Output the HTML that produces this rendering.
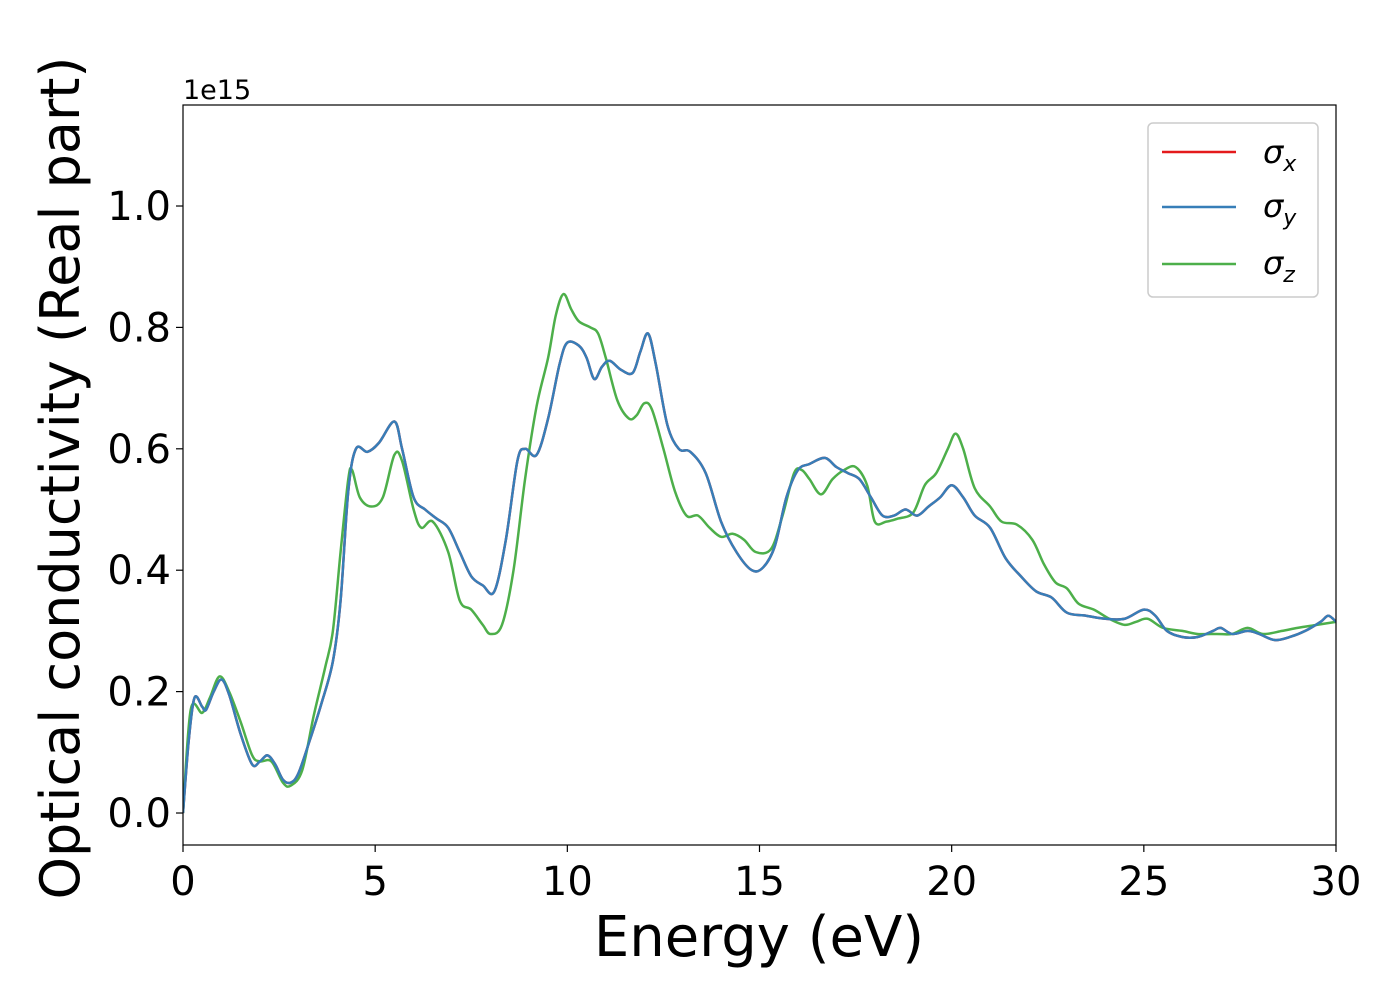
<!DOCTYPE html>
<html><head><meta charset="utf-8"><style>
body{margin:0;background:#fff}
svg text{font-family:"DejaVu Sans","Liberation Sans",sans-serif;fill:#000}
</style></head><body>
<svg width="1400" height="1000" viewBox="0 0 1400 1000" xmlns="http://www.w3.org/2000/svg">
<rect width="1400" height="1000" fill="#fff"/>
<g id="plot"></g>
<g id="axes"></g>
<text x="183" y="99" font-size="27">1e15</text>
<text x="759" y="956" font-size="56" text-anchor="middle">Energy (eV)</text>
<text transform="translate(79,478) rotate(-90)" font-size="54" text-anchor="middle">Optical conductivity (Real part)</text>
<g>
<rect x="1148" y="123" width="170" height="174" rx="5" fill="#fff" stroke="#ccc" stroke-width="1.5"/>
<line x1="1162" y1="152" x2="1236" y2="152" stroke="#e41a1c" stroke-width="2.5"/>
<text x="1263" y="163" font-size="32" font-style="italic">σ<tspan font-size="22" dy="8">x</tspan></text>
<line x1="1162" y1="207" x2="1236" y2="207" stroke="#377eb8" stroke-width="2.5"/>
<text x="1263" y="217" font-size="32" font-style="italic">σ<tspan font-size="22" dy="8">y</tspan></text>
<line x1="1162" y1="264" x2="1236" y2="264" stroke="#4daf4a" stroke-width="2.5"/>
<text x="1263" y="274" font-size="32" font-style="italic">σ<tspan font-size="22" dy="8">z</tspan></text>
</g>
</svg>
<script>
const energyXY=[0,0.15,0.3,0.5,0.6,0.8,1.0,1.2,1.5,1.8,2.0,2.2,2.4,2.6,2.8,3.0,3.3,3.6,3.9,4.1,4.3,4.5,4.8,5.1,5.5,5.7,6.0,6.3,6.6,6.9,7.2,7.5,7.8,8.1,8.4,8.7,8.9,9.2,9.5,9.8,10.0,10.3,10.5,10.7,10.9,11.1,11.4,11.7,11.9,12.1,12.3,12.6,12.9,13.2,13.6,14.0,14.4,14.8,15.1,15.4,15.7,16.0,16.3,16.7,17.0,17.3,17.6,17.9,18.2,18.5,18.8,19.1,19.4,19.7,20.0,20.3,20.6,21.0,21.4,21.8,22.2,22.6,23.0,23.5,24.0,24.5,25.0,25.3,25.6,26.0,26.4,26.8,27.0,27.3,27.7,28.0,28.4,28.8,29.2,29.6,29.8,30];
const sigmaX=[0,0.12,0.19,0.175,0.17,0.2,0.22,0.195,0.13,0.08,0.085,0.095,0.08,0.055,0.05,0.065,0.12,0.18,0.25,0.35,0.53,0.6,0.595,0.61,0.645,0.6,0.52,0.5,0.485,0.47,0.43,0.39,0.375,0.365,0.45,0.58,0.6,0.59,0.65,0.74,0.775,0.77,0.75,0.715,0.735,0.745,0.73,0.725,0.76,0.79,0.74,0.64,0.6,0.595,0.56,0.48,0.43,0.4,0.405,0.44,0.52,0.565,0.575,0.585,0.57,0.56,0.55,0.52,0.49,0.49,0.5,0.49,0.505,0.52,0.54,0.52,0.49,0.47,0.42,0.39,0.365,0.355,0.33,0.325,0.32,0.32,0.335,0.325,0.3,0.29,0.29,0.3,0.305,0.295,0.3,0.295,0.285,0.29,0.3,0.315,0.325,0.315];
const sigmaY=sigmaX.slice();
const energyZ=[0,0.2,0.5,0.7,0.95,1.2,1.5,1.8,2.0,2.3,2.6,2.8,3.1,3.4,3.7,3.9,4.1,4.3,4.4,4.6,4.9,5.2,5.5,5.7,6.0,6.2,6.5,6.9,7.2,7.5,7.8,8.0,8.3,8.6,8.9,9.2,9.5,9.7,9.9,10.1,10.3,10.6,10.8,11.0,11.3,11.6,11.8,12.0,12.2,12.5,12.8,13.1,13.4,13.7,14.0,14.3,14.6,14.9,15.3,15.6,15.9,16.1,16.3,16.6,16.9,17.2,17.5,17.8,18.0,18.3,18.6,19.0,19.3,19.6,19.9,20.1,20.3,20.6,21.0,21.3,21.7,22.1,22.4,22.7,23.0,23.3,23.7,24.1,24.5,24.8,25.1,25.5,26.0,26.4,26.9,27.3,27.7,28.1,28.6,29.0,29.5,30];
const sigmaZ=[0,0.17,0.165,0.19,0.225,0.2,0.15,0.095,0.085,0.085,0.05,0.045,0.07,0.16,0.24,0.3,0.43,0.55,0.565,0.52,0.505,0.52,0.59,0.58,0.5,0.47,0.48,0.43,0.35,0.335,0.31,0.295,0.31,0.4,0.55,0.67,0.75,0.82,0.855,0.83,0.81,0.8,0.79,0.75,0.68,0.65,0.655,0.675,0.665,0.6,0.53,0.49,0.49,0.47,0.455,0.46,0.45,0.43,0.435,0.49,0.56,0.565,0.55,0.525,0.55,0.565,0.57,0.54,0.48,0.48,0.485,0.495,0.54,0.56,0.6,0.625,0.6,0.535,0.505,0.48,0.475,0.45,0.41,0.38,0.37,0.345,0.335,0.32,0.31,0.315,0.32,0.305,0.3,0.295,0.295,0.295,0.305,0.295,0.3,0.305,0.31,0.315];
const xTicks=[0,5,10,15,20,25,30];
const yTicks=[0,0.2,0.4,0.6,0.8,1.0];
const yTickLabels=["0.0","0.2","0.4","0.6","0.8","1.0"];

const L=183,R=1336,T=105,B=845,xMin=0,xMax=30,yMin=-0.0527,yMax=1.1664;
const sx=v=>L+(v-xMin)/(xMax-xMin)*(R-L);
const sy=v=>B-(v-yMin)/(yMax-yMin)*(B-T);
const NS="http://www.w3.org/2000/svg";
function mk(tag,attrs,parent){const e=document.createElementNS(NS,tag);for(const k in attrs)e.setAttribute(k,attrs[k]);parent.appendChild(e);return e;}
function pathD(xs,ys){const p=xs.map((x,i)=>[sx(x),sy(ys[i])]);let d="M"+p[0][0]+","+p[0][1];
for(let i=0;i<p.length-1;i++){const p0=p[Math.max(0,i-1)],p1=p[i],p2=p[i+1],p3=p[Math.min(p.length-1,i+2)];
const c1x=p1[0]+(p2[0]-p0[0])/6,c1y=p1[1]+(p2[1]-p0[1])/6,c2x=p2[0]-(p3[0]-p1[0])/6,c2y=p2[1]-(p3[1]-p1[1])/6;
d+=` C${c1x},${c1y} ${c2x},${c2y} ${p2[0]},${p2[1]}`;}return d;}
const plot=document.getElementById('plot');
mk('defs',{},plot).innerHTML='<clipPath id="cp"><rect x="183" y="105" width="1153" height="740"/></clipPath>';
const g=mk('g',{'clip-path':'url(#cp)'},plot);
const s1=mk('path',{d:pathD(energyXY,sigmaX),fill:'none',stroke:'#e41a1c','stroke-width':2.5},g);


const s3=mk('path',{d:pathD(energyZ,sigmaZ),fill:'none',stroke:'#4daf4a','stroke-width':2.5},g);


const s2=mk('path',{d:pathD(energyXY,sigmaY),fill:'none',stroke:'#377eb8','stroke-width':2.5},g);


const ax=document.getElementById('axes');
const fr=mk('rect',{x:L,y:T,width:R-L,height:B-T,fill:'none',stroke:'#000','stroke-width':1.2},ax);


xTicks.forEach(v=>{mk('line',{x1:sx(v),x2:sx(v),y1:B,y2:B+7,stroke:'#000','stroke-width':1.2},ax);
const t=mk('text',{x:sx(v),y:B+50,'font-size':40,'text-anchor':'middle'},ax);t.textContent=v;

});
yTicks.forEach((v,i)=>{mk('line',{x1:L-7,x2:L,y1:sy(v),y2:sy(v),stroke:'#000','stroke-width':1.2},ax);
const t=mk('text',{x:L-12,y:sy(v)+14,'font-size':40,'text-anchor':'end'},ax);t.textContent=yTickLabels[i];

});
</script>
</body></html>
